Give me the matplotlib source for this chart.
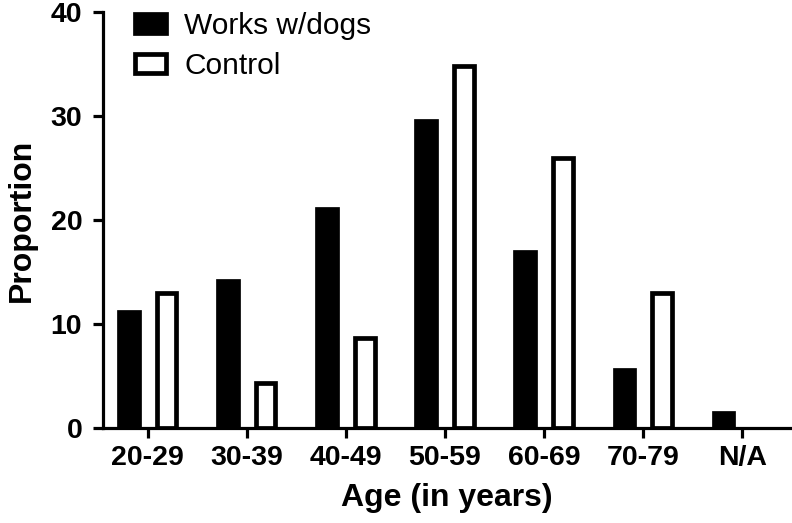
import numpy as np
import matplotlib
matplotlib.use('Agg')
import matplotlib.pyplot as plt

plt.rcParams['font.family'] = ['Liberation Sans', 'DejaVu Sans']

ages = ['20-29', '30-39', '40-49', '50-59', '60-69', '70-79', 'N/A']
works_dogs = [11.2, 14.1, 21.1, 29.5, 16.9, 5.6, 1.4]
control = [13.0, 4.3, 8.7, 34.8, 26.0, 13.0, 0.0]

x = np.arange(len(ages))
w = 0.2
off = 0.19
lw = 3.4

fig = plt.figure(figsize=(7.92, 5.23), dpi=100)
ax = fig.add_axes([103 / 792, 1 - 428 / 523, (790 - 103) / 792, (428 - 12) / 523])

ax.bar(x - off, works_dogs, w, color='black', edgecolor='black', linewidth=lw,
       label='Works w/dogs')
ctrl = np.array(control)
bars = ax.bar(x + off, ctrl, w, color='white', edgecolor='black', linewidth=lw,
              label='Control')
# no visible outline for zero-height bars
for b, v in zip(bars, ctrl):
    if v == 0:
        b.set_visible(False)

ax.set_xlim(-0.45, 6.48)
ax.set_ylim(0, 40)
ax.set_yticks([0, 10, 20, 30, 40])
ax.set_xticks(x)
ax.set_xticklabels(ages)

for s in ['top', 'right']:
    ax.spines[s].set_visible(False)
for s in ['left', 'bottom']:
    ax.spines[s].set_linewidth(2.3)

ax.tick_params(axis='y', length=7, width=2.3, pad=8, labelsize=20.5)
ax.tick_params(axis='x', length=7, width=2.3, pad=5, labelsize=20.5)
for t in ax.get_xticklabels() + ax.get_yticklabels():
    t.set_fontweight('bold')

ax.set_xlabel('Age (in years)', fontsize=23, fontweight='bold', labelpad=9)
ax.set_ylabel('Proportion', fontsize=23, fontweight='bold', labelpad=10)

ax.legend(loc='upper left', bbox_to_anchor=(135 / 792, 1 - 12 / 523),
          bbox_transform=fig.transFigure, frameon=False, fontsize=21.5,
          handlelength=1.05, handleheight=0.6, handletextpad=0.6,
          labelspacing=0.4, borderpad=0, borderaxespad=0)

fig.savefig('out.png', dpi=100)
